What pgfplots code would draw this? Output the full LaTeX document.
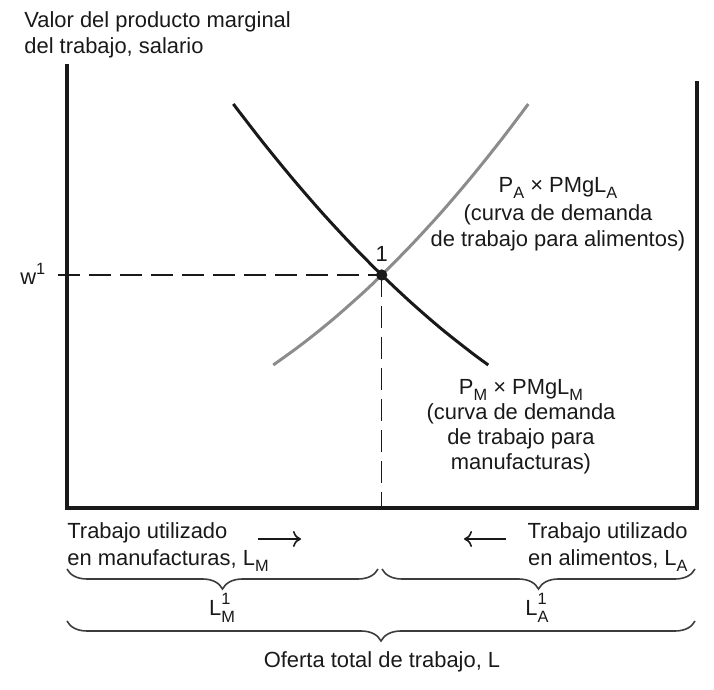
\documentclass[border=0pt]{standalone}
\usepackage{fontspec}
\setmainfont{Liberation Sans}
\usepackage{pgfplots}
\pgfplotsset{compat=1.18}
\usetikzlibrary{decorations.pathreplacing,arrows.meta}

\definecolor{curvegray}{gray}{0.55}
\definecolor{txt}{gray}{0.1}
\newcommand{\sub}[1]{\raisebox{-3bp}{\fontsize{8.2}{8.2}\selectfont #1}}
\newcommand{\sups}[1]{\raisebox{5bp}{\fontsize{8.2}{8.2}\selectfont #1}}
\newcommand{\both}[2]{\rlap{\raisebox{5.5bp}{\fontsize{8.2}{8.2}\selectfont #1}}\raisebox{-3.5bp}{\fontsize{8.2}{8.2}\selectfont #2}}

\begin{document}
\fontsize{11}{12.5}\selectfont
\begin{tikzpicture}[every node/.style={font=\fontsize{11}{12.5}\selectfont, text=txt, inner sep=0pt}]
\begin{axis}[x=0.5bp,y=0.5bp,xmin=0,xmax=714,ymin=0,ymax=690,
  axis lines=none,ticks=none,clip=false]
\path (axis cs:0,0) rectangle (axis cs:714,690);

% frame (left, bottom, right)
\draw[line width=2bp, color=txt, line join=miter] (axis cs:67,626) -- (axis cs:67,182) -- (axis cs:697,182) -- (axis cs:697,609);

% dashed guide lines
\addplot[line width=0.6bp, color=txt, dash pattern=on 11bp off 4.5bp] coordinates {(58,415) (381.7,415)};
\addplot[line width=0.6bp, color=txt, dash pattern=on 11bp off 4.5bp] coordinates {(381.7,415) (381.7,184)};

% P_M x PMgL_M (black)
\addplot[line width=1.5bp, color=txt, smooth] coordinates {
 (233.3,586) (261.7,549.2) (291.7,512.4) (321.7,477.7) (351.7,445.3)
 (381.7,415) (411.7,386.9) (441.7,360.9) (471.7,337.2) (488.3,325)};

% P_A x PMgL_A (gray)
\addplot[line width=1.5bp, color=curvegray, smooth] coordinates {
 (273.3,325) (301.7,345.6) (331.7,369.6) (361.7,396) (381.7,415)
 (411.7,445.4) (441.7,478.1) (471.7,513.3) (501.7,550.8) (528.3,586)};

% equilibrium point
\addplot[only marks, mark=*, mark size=2.6bp, color=txt] coordinates {(381.7,415)};

% labels
\node[anchor=base west] at (axis cs:24,662) {Valor del producto marginal};
\node[anchor=base west] at (axis cs:24,636) {del trabajo, salario};
\node[anchor=base west] at (axis cs:20,405) {w\sups{1}};
\node[anchor=base] at (axis cs:381.7,428) {1};

\node[anchor=base] at (axis cs:558,497) {P\sub{A} \texttimes{} PMgL\sub{A}};
\node[anchor=base] at (axis cs:558,469) {(curva de demanda};
\node[anchor=base] at (axis cs:558,443) {de trabajo para alimentos)};

\node[anchor=base] at (axis cs:521,295) {P\sub{M} \texttimes{} PMgL\sub{M}};
\node[anchor=base] at (axis cs:521,270) {(curva de demanda};
\node[anchor=base] at (axis cs:521,245) {de trabajo para};
\node[anchor=base] at (axis cs:521,220) {manufacturas)};

% bottom annotations
\node[anchor=base west] at (axis cs:67,151) {Trabajo utilizado};
\node[anchor=base west] at (axis cs:67,124) {en manufacturas, L\sub{M}};
\node[anchor=base east] at (axis cs:688,151) {Trabajo utilizado};
\node[anchor=base east] at (axis cs:688,124) {en alimentos, L\sub{A}};

\draw[line width=0.8bp, color=txt, -{To[length=4bp,width=8bp]}] (axis cs:258,151) -- (axis cs:301,151);
\draw[line width=0.8bp, color=txt, -{To[length=4bp,width=8bp]}] (axis cs:506,151) -- (axis cs:464,151);

\draw[line width=0.8bp, color=txt!85, decorate, decoration={brace, mirror, amplitude=10bp}] (axis cs:67,121) -- (axis cs:378,121);
\draw[line width=0.8bp, color=txt!85, decorate, decoration={brace, mirror, amplitude=10bp}] (axis cs:382,121) -- (axis cs:695,121);
\node[anchor=base] at (axis cs:222,74) {L\both{1}{M}};
\node[anchor=base] at (axis cs:537,74) {L\both{1}{A}};

\draw[line width=0.8bp, color=txt!85, decorate, decoration={brace, mirror, amplitude=10bp}] (axis cs:67,69) -- (axis cs:695,69);
\node[anchor=base] at (axis cs:382,22) {Oferta total de trabajo, L};
\end{axis}
\end{tikzpicture}
\end{document}
